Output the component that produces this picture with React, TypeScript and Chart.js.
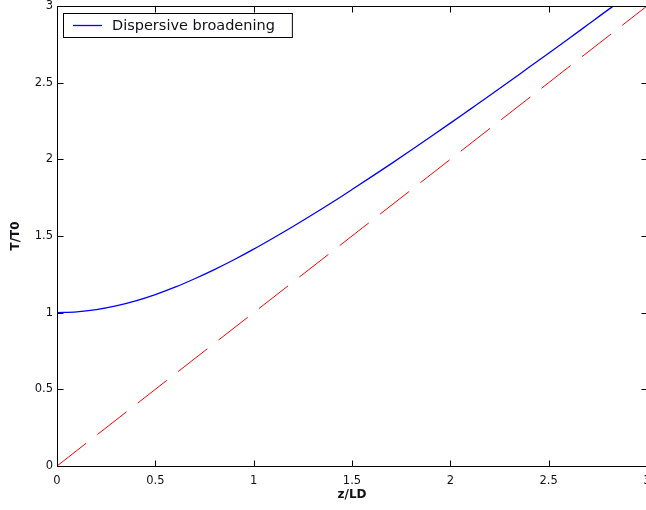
import React, { useEffect, useRef } from "react";
import { Chart, registerables } from "chart.js";

Chart.register(...registerables);

// Normalised distance z/LD at which the broadening curve was read
const zPoints = [
  0, 0.1, 0.2, 0.3, 0.4, 0.5, 0.6, 0.7, 0.8, 0.9, 1.0, 1.1, 1.2, 1.3, 1.4,
  1.5, 1.6, 1.7, 1.8, 1.9, 2.0, 2.1, 2.2, 2.3, 2.4, 2.5, 2.6, 2.7, 2.8, 2.83,
];
// Pulse width ratio T/T0 (blue curve)
const broadeningT = [
  1.0, 1.005, 1.02, 1.044, 1.077, 1.118, 1.166, 1.221, 1.281, 1.345, 1.414,
  1.487, 1.562, 1.64, 1.72, 1.803, 1.887, 1.972, 2.059, 2.147, 2.236, 2.326,
  2.416, 2.507, 2.6, 2.692, 2.785, 2.879, 2.973, 3.0,
];
// Asymptote (red dashed line)
const asymptoteZ = [0, 3];
const asymptoteT = [0, 3];

const xTicks = [0, 0.5, 1, 1.5, 2, 2.5, 3];
const yTicks = [0, 0.5, 1, 1.5, 2, 2.5, 3];

const legendLabel = "Dispersive broadening";
const xTitle = "z/LD";
const yTitle = "T/T0";

const TEXT_COLOR = "#111118";
const FONT_FAMILY = "'DejaVu Sans', 'Liberation Sans', sans-serif";

const matlabAxesPlugin = {
  id: "matlabAxes",
  afterDatasetsDraw(chart: any) {
    const { ctx, chartArea } = chart;
    const { left, right, top, bottom } = chartArea;
    const xs = chart.scales.x;
    const ys = chart.scales.y;
    const tick = 6;
    ctx.save();
    ctx.strokeStyle = "#000";
    ctx.lineWidth = 1;
    ctx.beginPath();
    const L = Math.round(left) + 0.5;
    const R = Math.round(right) + 0.5;
    const T = Math.round(top) + 0.5;
    const B = Math.round(bottom) + 0.5;
    ctx.rect(L, T, R - L, B - T);
    for (const v of xTicks) {
      const px = Math.round(xs.getPixelForValue(v)) + 0.5;
      ctx.moveTo(px, B);
      ctx.lineTo(px, B - tick);
      ctx.moveTo(px, T);
      ctx.lineTo(px, T + tick);
    }
    for (const v of yTicks) {
      const py = Math.round(ys.getPixelForValue(v)) + 0.5;
      ctx.moveTo(L, py);
      ctx.lineTo(L + tick, py);
      ctx.moveTo(R, py);
      ctx.lineTo(R - tick, py);
    }
    ctx.stroke();
    ctx.restore();
  },
};

const boxedLegendPlugin = {
  id: "boxedLegend",
  afterDraw(chart: any) {
    const { ctx, chartArea } = chart;
    const ds = chart.data.datasets[0];
    const boxX = Math.round(chartArea.left) + 6;
    const boxY = Math.round(chartArea.top) + 7;
    const boxH = 24;
    ctx.save();
    ctx.font = `14.5px ${FONT_FAMILY}`;
    const tw = ctx.measureText(ds.label).width;
    const lineX0 = boxX + 10;
    const lineX1 = boxX + 39;
    const textX = boxX + 49;
    const boxW = textX - boxX + tw + 17;
    ctx.fillStyle = "#fff";
    ctx.fillRect(boxX, boxY, boxW, boxH);
    ctx.strokeStyle = "#000";
    ctx.lineWidth = 1;
    ctx.strokeRect(boxX + 0.5, boxY + 0.5, boxW, boxH);
    const cy = boxY + boxH / 2 + 0.5;
    ctx.strokeStyle = ds.borderColor;
    ctx.lineWidth = 1.3;
    ctx.beginPath();
    ctx.moveTo(lineX0, cy);
    ctx.lineTo(lineX1, cy);
    ctx.stroke();
    ctx.fillStyle = TEXT_COLOR;
    ctx.textBaseline = "middle";
    ctx.textAlign = "left";
    ctx.fillText(ds.label, textX, cy + 1);
    ctx.restore();
  },
};

export default function App() {
  const ref = useRef<HTMLCanvasElement>(null);
  useEffect(() => {
    document.body.style.margin = "0";
    const canvas = ref.current;
    if (!canvas) return;
    const tickFont = { family: FONT_FAMILY, size: 11.5 };
    const titleFont = { family: FONT_FAMILY, size: 12, weight: "bold" as const };
    const chart = new Chart(canvas, {
      type: "line",
      data: {
        datasets: [
          {
            label: legendLabel,
            data: zPoints.map((z, i) => ({ x: z, y: broadeningT[i] })),
            borderColor: "#0000ff",
            borderWidth: 1.3,
            pointRadius: 0,
            cubicInterpolationMode: "monotone",
            fill: false,
          },
          {
            label: "asymptote",
            data: asymptoteZ.map((z, i) => ({ x: z, y: asymptoteT[i] })),
            borderColor: "#ff0000",
            borderWidth: 1,
            borderDash: [37, 14.2],
            pointRadius: 0,
            tension: 0,
            fill: false,
          },
        ],
      },
      options: {
        responsive: false,
        animation: false,
        devicePixelRatio: 1,
        layout: { padding: { top: 6, right: 53, left: 0, bottom: 0 } },
        plugins: {
          legend: { display: false },
          tooltip: { enabled: false },
        },
        scales: {
          x: {
            type: "linear",
            min: 0,
            max: 3,
            afterBuildTicks: (s: any) => {
              s.ticks = xTicks.map((v) => ({ value: v }));
            },
            grid: { display: false, drawTicks: false },
            border: { display: false },
            ticks: {
              padding: 8,
              font: tickFont,
              color: TEXT_COLOR,
              maxRotation: 0,
              autoSkip: false,
              callback: (v: any) => String(v),
            },
            title: {
              display: true,
              text: xTitle,
              font: titleFont,
              color: TEXT_COLOR,
              padding: { top: 0, bottom: 8 },
            },
            afterFit: (s: any) => {
              s.height = 44;
              s.paddingLeft = 0;
              s.paddingRight = 0;
            },
          },
          y: {
            type: "linear",
            min: 0,
            max: 3,
            afterBuildTicks: (s: any) => {
              s.ticks = yTicks.map((v) => ({ value: v }));
            },
            grid: { display: false, drawTicks: false },
            border: { display: false },
            ticks: {
              padding: 4,
              font: tickFont,
              color: TEXT_COLOR,
              autoSkip: false,
              callback: (v: any) => String(v),
            },
            title: {
              display: true,
              text: yTitle,
              font: titleFont,
              color: TEXT_COLOR,
              padding: { top: 9, bottom: 0 },
            },
            afterFit: (s: any) => {
              s.width = 57;
              s.paddingTop = 0;
              s.paddingBottom = 0;
            },
          },
        },
      },
      plugins: [matlabAxesPlugin, boxedLegendPlugin],
    });
    return () => chart.destroy();
  }, []);
  return (
    <div
      style={{
        position: "absolute",
        left: 0,
        top: 0,
        width: 646,
        height: 510,
        overflow: "hidden",
        background: "#fff",
      }}
    >
      <canvas ref={ref} width={700} height={510} style={{ display: "block", width: 700, height: 510 }} />
    </div>
  );
}
